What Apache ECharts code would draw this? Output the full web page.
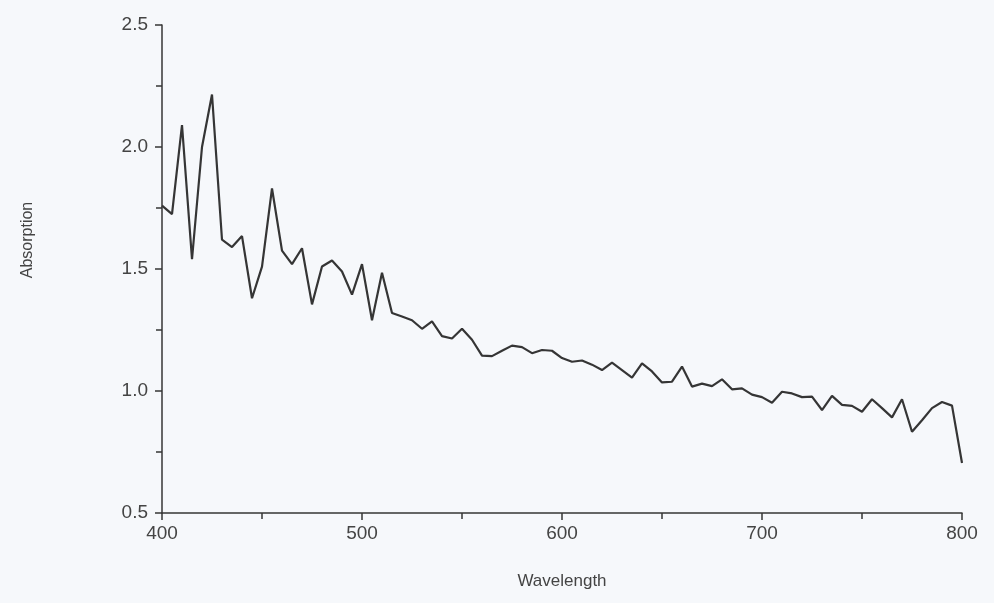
<!DOCTYPE html>
<html>
<head>
<meta charset="utf-8">
<script src="https://cdn.jsdelivr.net/npm/echarts@6/dist/echarts.min.js"></script>
<style>
html,body{margin:0;padding:0;background:#f6f8fb;}
#chart{width:994px;height:603px;}
</style>
</head>
<body>
<div id="chart"></div>
<script>
const wavelength = [400,405,410,415,420,425,430,435,440,445,450,455,460,465,470,475,480,485,490,495,
  500,505,510,515,520,525,530,535,540,545,550,555,560,565,570,575,580,585,590,595,
  600,605,610,615,620,625,630,635,640,645,650,655,660,665,670,675,680,685,690,695,
  700,705,710,715,720,725,730,735,740,745,750,755,760,765,770,775,780,785,790,795,800];
const absorption = [1.76,1.725,2.09,1.54,2.0,2.215,1.62,1.59,1.635,1.38,1.51,1.83,1.575,1.52,1.585,1.355,1.51,1.535,1.49,1.395,
  1.52,1.29,1.485,1.32,1.305,1.29,1.255,1.285,1.225,1.215,1.255,1.21,1.145,1.143,1.165,1.186,1.18,1.155,1.168,1.165,
  1.135,1.12,1.125,1.108,1.086,1.116,1.086,1.055,1.113,1.08,1.035,1.038,1.1,1.018,1.03,1.02,1.048,1.007,1.011,0.985,
  0.975,0.952,0.997,0.99,0.975,0.977,0.922,0.98,0.943,0.939,0.915,0.966,0.93,0.892,0.966,0.833,0.88,0.93,0.955,0.94,0.705];
const xTicks = [400,500,600,700,800];
const yTicks = [0.5,1.0,1.5,2.0,2.5];
const xTitle = 'Wavelength';
const yTitle = 'Absorption';

const chart = echarts.init(document.getElementById('chart'));
const axisCol = '#363636';
const labelCol = '#444';
chart.setOption({
  backgroundColor: '#f6f8fb',
  animation: false,
  grid: {left: 162, right: 32, top: 25, bottom: 90, containLabel: false, outerBoundsMode: 'none'},
  xAxis: {
    type: 'value', min: 400, max: 800, interval: 100,
    name: xTitle, nameLocation: 'middle', nameGap: 60,
    nameTextStyle: {color: labelCol, fontSize: 17, fontFamily: 'Liberation Sans'},
    axisLine: {show: true, onZero: false, lineStyle: {color: axisCol, width: 1.5}},
    axisTick: {show: true, inside: false, length: 7, lineStyle: {color: axisCol, width: 1.5}},
    minorTick: {show: true, splitNumber: 2, length: 6, lineStyle: {color: axisCol, width: 1.5}},
    axisLabel: {color: labelCol, fontSize: 19, fontFamily: 'Liberation Sans', margin: 11,
      formatter: v => xTicks.includes(v) ? String(v) : ''},
    splitLine: {show: false}
  },
  yAxis: {
    type: 'value', min: 0.5, max: 2.5, interval: 0.5,
    name: yTitle, nameLocation: 'middle', nameGap: 126, nameRotate: 90,
    nameTextStyle: {color: labelCol, fontSize: 16, fontFamily: 'Liberation Sans', padding: [0, 0, 0, 58]},
    axisLine: {show: true, onZero: false, lineStyle: {color: axisCol, width: 1.5}},
    axisTick: {show: true, inside: false, length: 7, lineStyle: {color: axisCol, width: 1.5}},
    minorTick: {show: true, splitNumber: 2, length: 6, lineStyle: {color: axisCol, width: 1.5}},
    axisLabel: {color: labelCol, fontSize: 19, fontFamily: 'Liberation Sans', margin: 14,
      formatter: v => { const t = yTicks.find(y => Math.abs(y - v) < 1e-9); return t === undefined ? '' : t.toFixed(1); }},
    splitLine: {show: false}
  },
  series: [{
    type: 'line',
    data: wavelength.map((w, i) => [w, absorption[i]]),
    showSymbol: false,
    lineStyle: {color: '#353535', width: 2.2},
    itemStyle: {color: '#353535'}
  }]
});
</script>
</body>
</html>
